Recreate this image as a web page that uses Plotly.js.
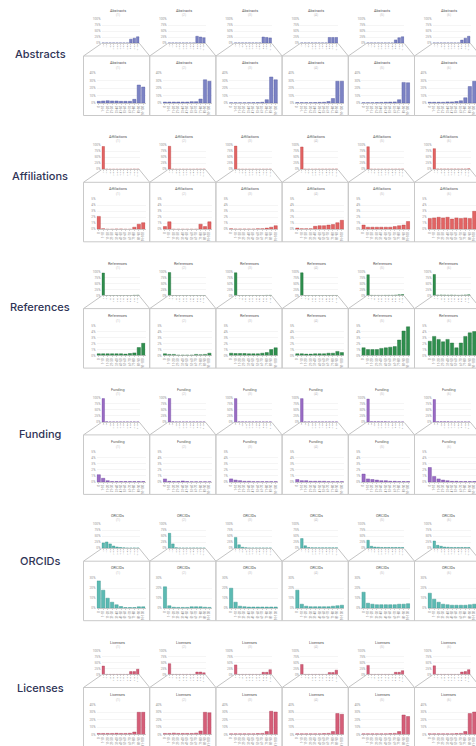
<!DOCTYPE html>
<html><head><meta charset="utf-8">
<script src="https://cdn.plot.ly/plotly-3.0.1.min.js"></script>
<style>html,body{margin:0;padding:0;background:#fff;overflow:hidden;width:476px;height:746px}#chart{width:500px;height:746px}</style>
</head><body><div id="chart"></div><script>
const rowNames = ["Abstracts","Affiliations","References","Funding","ORCIDs","Licenses"];
const columnNotes = ["(1)","(2)","(3)","(4)","(5)","(6)"];
const categories = ["0","1-10","11-20","21-30","31-40","41-50","51-60","61-70","71-80","81-90","91-100"];
const topTicks = [0,25,50,75,100];

const abstractsTop = [
 [0.2,0.2,0.2,0.2,0.2,0.2,0.2,0.2,16,20,26],
 [0.2,0.2,0.2,0.2,0.2,0.2,0.2,0.2,28,25,22],
 [0.2,0.2,0.2,0.2,0.2,0.2,0.2,0.2,25,23,21],
 [0.2,0.2,0.2,0.2,0.2,0.2,0.2,0.2,23,23,23],
 [0.2,0.2,0.2,0.2,0.2,0.2,0.2,0.2,13,22,26],
 [0.2,0.2,0.2,0.2,0.2,0.2,0.2,0.2,12,20,28]];
const abstractsBottom = [
 [2.2,2.7,3.1,2.7,2.7,2.2,2.2,2.2,4.9,24,21.3],
 [1.3,1.3,1.3,1.3,1.3,1.3,1.8,1.8,5.3,31,29],
 [0.3,0.3,0.3,0.3,0.4,0.5,0.6,1,4.4,34.7,31],
 [0.5,0.5,0.5,0.5,0.6,0.8,1,2,6,29,29],
 [0.5,0.5,0.5,0.6,0.8,1,1.2,1.5,4.4,27.5,27],
 [1,1,1,1,1.5,1.5,2,3,7,22,29]];

const affiliationsTop = [
 [95,0.3,0,0,0,0,0,0,0.2,0.5,0.6],
 [96,0.5,0,0,0,0,0,0,0.5,0.3,0.6],
 [97,0.1,0,0,0,0,0,0,0.1,0.2,0.3],
 [93,0.1,0.1,0.1,0.3,0.4,0.4,0.5,0.6,0.8,1],
 [94,0.3,0.2,0.2,0.2,0.2,0.2,0.3,0.4,0.5,0.9],
 [86,1.2,1.3,1.2,1.3,1.1,1.2,1.1,1.2,1.1,1.8]];
const affiliationsBottom = [
 [2.15,0.1,0,0,0.05,0.05,0,0,0.35,0.85,1.1],
 [0.45,1.25,0,0,0,0,0,0,0.85,0.45,1.25],
 [0.1,0.05,0.05,0.05,0.05,0.05,0.1,0.1,0.2,0.35,0.6],
 [0.2,0.1,0.1,0.1,0.5,0.6,0.6,0.7,0.8,1.1,1.5],
 [0.7,0.35,0.35,0.35,0.35,0.35,0.35,0.45,0.6,0.7,1.3],
 [1.8,1.9,2.0,1.9,2.0,1.7,1.9,1.8,1.9,1.8,3.0]];

const referencesTop = [
 [94,0.3,0.3,0.3,0.3,0.3,0.2,0.3,0.4,1.2,1.8],
 [96,0.3,0.2,0.2,0.1,0.1,0.1,0.2,0.2,0.2,0.4],
 [95,0.3,0.3,0.3,0.2,0.2,0.2,0.3,0.4,0.9,1.1],
 [95,0.2,0.2,0.2,0.2,0.2,0.2,0.3,0.3,0.6,0.5],
 [87,1.1,0.9,0.9,0.9,1.1,1.2,1.3,2.2,3.6,4.2],
 [88,2.1,2.8,2.4,2.0,2.4,1.8,1.1,1.8,2.8,3.3]];
const referencesBottom = [
 [0.3,0.3,0.3,0.3,0.3,0.3,0.25,0.35,0.45,1.35,2.05],
 [0.3,0.2,0.2,0.1,0.1,0.1,0.1,0.2,0.15,0.2,0.4],
 [0.4,0.35,0.35,0.35,0.3,0.3,0.3,0.4,0.5,1.0,1.3],
 [0.3,0.3,0.25,0.25,0.3,0.3,0.3,0.4,0.4,0.7,0.5],
 [1.3,1.0,1.0,1.0,1.2,1.3,1.4,1.5,2.6,4.1,4.8],
 [2.4,3.2,2.7,2.3,2.7,2.1,1.3,2.1,3.2,3.8,4.0]];

const fundingTop = [
 [97,0.5,0.1,0,0,0,0,0,0,0,0],
 [98,0.2,0,0,0,0,0,0,0,0,0],
 [97,0.3,0.2,0.1,0.1,0,0,0,0,0,0],
 [97,0.2,0.2,0.1,0.1,0.1,0.1,0,0,0,0],
 [95,0.5,0.4,0.3,0.2,0.2,0.1,0,0,0,0],
 [93,0.9,0.5,0.3,0.2,0.1,0.1,0,0,0,0]];
const fundingBottom = [
 [1.2,0.6,0.2,0.05,0.05,0.05,0.05,0.05,0.05,0.05,0.05],
 [0.5,0.1,0.05,0.05,0.15,0.05,0.02,0.02,0.02,0.02,0.02],
 [0.5,0.3,0.2,0.1,0.1,0.05,0.05,0.05,0.05,0.05,0.05],
 [0.4,0.2,0.2,0.1,0.1,0.1,0.1,0.05,0.05,0.05,0.05],
 [1.3,0.5,0.4,0.3,0.2,0.2,0.1,0.1,0.05,0.05,0.05],
 [2.4,0.9,0.5,0.3,0.2,0.1,0.1,0.05,0.05,0.05,0.05]];

const orcidsTop = [
 [22,26,18,9,5,3,1.5,0.8,0.8,1,1],
 [62,18,2,1,0.8,0.8,0.8,1,1,0.8,0.6],
 [45,14,4,2,1,1,1,1,1,1,1],
 [40,10,3,2,1.5,1.5,1.5,1.5,1.5,1.5,1.5],
 [33,8,5,4,3,3,3,3,3,3,3],
 [30,12,8,5,4,3,3,3,3,3,3]];
const orcidsBottom = [
 [27.3,18,10,6,3.4,1.7,0.7,0.7,0.7,1.4,1.4],
 [21.4,2.4,1,0.8,0.8,0.8,1.4,1.4,1.4,1,0.8],
 [20,6,2,1.5,1.2,1.2,1.2,1.2,1.2,1.2,1.2],
 [18,4,2,1.5,1.5,1.5,1.5,1.5,2,2.5,3],
 [16,5,4,3.5,3.5,3.5,3.5,3.5,4,4,4.5],
 [15,9,6,4,3.5,3,3,3,3,3.5,4]];

const licensesTop = [
 [35,0.5,0.5,0.5,0.5,0.5,0.5,0.5,12,12,22],
 [45,0.5,0.5,0.5,0.5,0.5,0.5,0.5,10,10,7],
 [40,0.5,0.5,0.5,0.5,0.5,0.5,0.5,9,9,20],
 [42,0.5,0.5,0.5,0.5,0.5,0.5,0.5,8,8,18],
 [38,0.5,0.5,0.5,0.5,0.5,0.5,0.5,9,9,16],
 [36,0.5,0.5,0.5,0.5,0.5,0.5,0.5,10,12,20]];
const licensesBottom = [
 [1.4,1.4,1.4,1.4,1.6,1.4,1.4,1.6,3.3,29.6,29.6],
 [1.4,1.4,1.8,1.4,1.4,1.4,1.4,1.8,4.7,29.6,29],
 [1,1,1,1,1,1,1.2,1.5,4,31,30],
 [1,1,1,1,1,1,1.2,1.5,4,28,27],
 [1,1,1,1,1,1,1.2,1.5,4,26,24],
 [1,1,1,1,1,1,1.2,1.5,4,28,30]];

const topData = [abstractsTop, affiliationsTop, referencesTop, fundingTop, orcidsTop, licensesTop];
const bottomData = [abstractsBottom, affiliationsBottom, referencesBottom, fundingBottom, orcidsBottom, licensesBottom];
const bottomTicks = [[0,10,20,30,40],[0,1,2,3,4,5],[0,1,2,3,4,5],[0,1,2,3,4,5],[0,10,20,30],[0,10,20,30,40]];
const barColors = ["#7c83c4","#e26464","#2f8f4e","#9a6cc4","#5cbab3","#d55e78"];
const barEdges = ["#4f56a0","#b83c3c","#1c6b34","#6d44a0","#2f8f88","#a63752"];

const W = 500, H = 746;
const rowLabelY = [54, 176, 307, 434, 561, 688];
const px = x => x / W;
const py = y => 1 - y / H;
const traces = [];
const layout = {width: W, height: H, margin: {l:0,r:0,t:0,b:0}, paper_bgcolor:"#fff", plot_bgcolor:"#fff",
  showlegend:false, bargap:0.25, shapes:[], annotations:[], font:{family:"Roboto, Arial, sans-serif"}};
let idx = 0;
function addChart(vals, xd, yd, ticks, color, edge, isTop) {
  idx++;
  const xa = idx === 1 ? "x" : "x" + idx, ya = idx === 1 ? "y" : "y" + idx;
  const sfx = idx === 1 ? "" : idx;
  traces.push({type:"bar", x: categories, y: vals, xaxis: xa, yaxis: ya,
    marker:{color: color, line:{color: edge, width: 0.4}}, hoverinfo:"skip"});
  layout["xaxis" + sfx] = {domain: xd, anchor: ya, type:"category", showgrid:false, zeroline:false,
    showline:true, linecolor:"#aaa", linewidth:0.6, ticks:"outside", ticklen:1, tickwidth:0.5, tickcolor:"#aaa",
    tickangle:-90, tickfont:{size: isTop ? 1.6 : 3, color:"#777"}, fixedrange:true};
  const mx = ticks[ticks.length - 1];
  layout["yaxis" + sfx] = {domain: yd, anchor: xa, range:[0, mx], tickvals: ticks,
    ticktext: ticks.map(t => t + "%"), tickfont:{size: 3.2, color:"#999"}, showgrid:true,
    gridcolor:"#ececec", gridwidth:0.5, zeroline:false, showline:false, ticks:"", fixedrange:true};
}
for (let r = 0; r < 6; r++) {
  const y0 = 126.3 * r;
  layout.annotations.push({xref:"paper", yref:"paper", x: px(40), y: py(rowLabelY[r]), text: rowNames[r],
    showarrow:false, xanchor:"center", yanchor:"middle", font:{size:11, color:"#2f3456", family:"Inter, Roboto", weight:500}});
  for (let c = 0; c < 6; c++) {
    const L = 83.5 + 66.2 * c;
    layout.shapes.push({type:"rect", xref:"paper", yref:"paper", x0: px(L), x1: px(L + 66.2),
      y0: py(y0 + 115.5), y1: py(y0 + 56), line:{color:"#c9c9c9", width:1}, fillcolor:"rgba(0,0,0,0)", layer:"below"});
    layout.shapes.push({type:"line", xref:"paper", yref:"paper", x0: px(L + 18), y0: py(y0 + 43.5),
      x1: px(L), y1: py(y0 + 56), line:{color:"#c4c4c4", width:1}});
    layout.shapes.push({type:"line", xref:"paper", yref:"paper", x0: px(L + 56), y0: py(y0 + 43.5),
      x1: px(L + 66.2), y1: py(y0 + 56), line:{color:"#c4c4c4", width:1}});
    addChart(topData[r][c], [px(L + 18), px(L + 56)], [py(y0 + 43), py(y0 + 19)], topTicks, barColors[r], barEdges[r], true);
    addChart(bottomData[r][c], [px(L + 13), px(L + 62)], [py(y0 + 103), py(y0 + 73)], bottomTicks[r], barColors[r], barEdges[r], false);
    [[y0 + 10.5, y0 + 15], [y0 + 62.5, y0 + 68]].forEach(([ty, sy]) => {
      layout.annotations.push({xref:"paper", yref:"paper", x: px(L + 34), y: py(ty), text: rowNames[r],
        showarrow:false, xanchor:"center", yanchor:"middle", font:{size:3.8, color:"#555"}});
      layout.annotations.push({xref:"paper", yref:"paper", x: px(L + 34), y: py(sy), text: columnNotes[c],
        showarrow:false, xanchor:"center", yanchor:"middle", font:{size:3.2, color:"#bbb"}});
    });
  }
}
Plotly.newPlot("chart", traces, layout, {displayModeBar:false, staticPlot:true});
</script></body></html>
